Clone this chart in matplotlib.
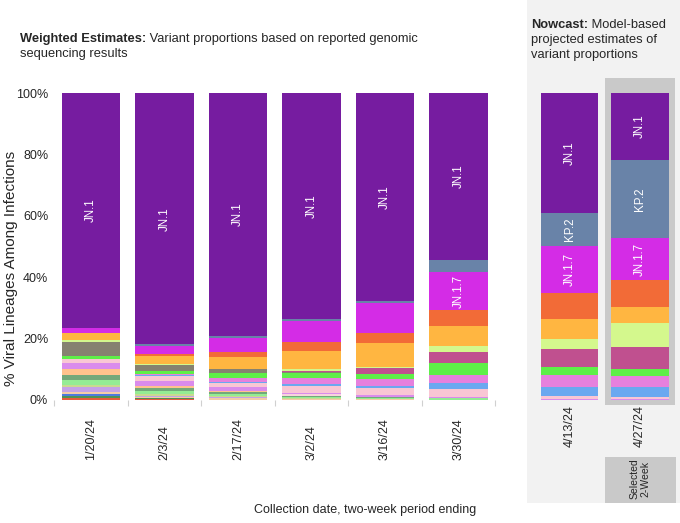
import matplotlib
matplotlib.use('Agg')
import matplotlib.pyplot as plt
from matplotlib.patches import Rectangle
import numpy as np

plt.rcParams['font.family'] = ['Liberation Sans', 'DejaVu Sans']

W, H, DPI = 680, 523, 100

# ---------------- data ----------------
weighted_dates = ['1/20/24', '2/3/24', '2/17/24', '3/2/24', '3/16/24', '3/30/24']
nowcast_dates = ['4/13/24', '4/27/24']

# stack order: bottom -> top ; 8 values = 6 weighted periods + 2 nowcast periods
lineages = ['XBB.1.5.70', 'XBB.1.9.1', 'XBB.1.16.6', 'EG.5', 'FL.1.5.1', 'XBB.2.3',
            'HV.1', 'HK.3', 'JD.1.1', 'JN.1.8', 'BA.2.86.1', 'JN.1.8.1', 'JN.1.4',
            'JN.1.16.1', 'JN.1.11.1', 'JN.1.4.3', 'JN.1.16', 'KP.1.1', 'JN.1.18',
            'JN.1.13.1', 'JN.1.7', 'KP.2', 'JN.1']

xbb_1_5_70 = [0.5, 0.3, 0, 0, 0, 0, 0, 0]
xbb_1_9_1 = [0.65, 0.2, 0, 0, 0, 0, 0, 0]
xbb_1_16_6 = [0.75, 0, 0, 0, 0, 0, 0, 0]
eg_5 = [0.75, 0.5, 0.5, 0.23, 0.23, 0, 0, 0]
fl_1_5_1 = [1.5, 0.3, 0.45, 0, 0, 0, 0, 0]
xbb_2_3 = [0.75, 0.56, 0.25, 0.3, 0, 0, 0, 0]
hv_1 = [1.6, 1.07, 0.75, 0.4, 0.4, 0.55, 0, 0]
hk_3 = [1.6, 0.97, 0.7, 0.37, 0.35, 0, 0, 0]
jd_1_1 = [2.0, 0.66, 0.28, 0, 0, 0, 0, 0]
jn_1_8 = [0, 0, 0, 0.65, 0, 0, 0, 0]
ba_2_86_1 = [1.95, 1.73, 1.21, 0.33, 0.65, 0.52, 0.23, 0.3]
jn_1_8_1 = [1.3, 1.5, 1.5, 2.28, 2.37, 2.51, 1.07, 0.77]
jn_1_4 = [0, 0.3, 0.32, 0.64, 0.56, 1.86, 2.84, 3.26]
jn_1_16_1 = [0, 0.37, 1.3, 1.97, 2.18, 2.7, 4.0, 3.57]
jn_1_11_1 = [1.0, 1.07, 1.44, 1.63, 1.83, 3.81, 2.7, 2.2]
jn_1_4_3 = [4.7, 1.86, 1.3, 0.2, 0, 0, 0, 0]
jn_1_16 = [0, 0, 0, 0.54, 1.83, 3.65, 5.65, 7.3]
kp_1_1 = [0.4, 0.2, 0.2, 0.46, 0.45, 2.0, 3.25, 7.6]
jn_1_18 = [2.3, 2.8, 3.9, 5.9, 7.65, 6.5, 6.8, 5.2]
jn_1_13_1 = [0, 0.6, 1.5, 3.0, 3.2, 5.2, 8.35, 8.9]
jn_1_7 = [1.6, 2.7, 4.7, 6.9, 9.8, 12.4, 15.25, 13.6]
kp_2 = [0, 0.4, 0.55, 0.6, 0.8, 3.9, 10.9, 25.5]
jn_1 = [76.65, 81.91, 79.15, 73.6, 67.7, 54.4, 38.96, 21.8]

series = [xbb_1_5_70, xbb_1_9_1, xbb_1_16_6, eg_5, fl_1_5_1, xbb_2_3, hv_1, hk_3,
          jd_1_1, jn_1_8, ba_2_86_1, jn_1_8_1, jn_1_4, jn_1_16_1, jn_1_11_1,
          jn_1_4_3, jn_1_16, kp_1_1, jn_1_18, jn_1_13_1, jn_1_7, kp_2, jn_1]

colors = ['#E65A3E', '#4F9155', '#4D7BDE', '#F3CDA8', '#C4A2E6', '#C9DA8F',
          '#94EC94', '#73A87A', '#FFC28D', '#F8D3DC', '#DA8BEC', '#F9C6D4', '#6AA8F0',
          '#E680DD', '#5EEF48', '#868270', '#C0508F', '#D4F88D', '#FFB641',
          '#F26B37', '#D42CE6', '#6983A8', '#761CA0']

labelled = ['JN.1', 'JN.1.7', 'KP.2']

# ---------------- figure ----------------
fig = plt.figure(figsize=(W / DPI, H / DPI), dpi=DPI)
fig.patch.set_facecolor('white')


def fx(px):
    return px / W


def fy(py):
    return 1 - py / H


def rect(x0, y0, x1, y1, color):
    fig.add_artist(Rectangle((fx(x0), fy(y1)), fx(x1) - fx(x0), fy(y0) - fy(y1),
                             transform=fig.transFigure, facecolor=color,
                             edgecolor='none', zorder=0))


# nowcast panel backgrounds
rect(527, 0, 680, 503, '#F2F2F2')
rect(605, 78, 675, 405, '#C9C9C9')
rect(605, 457, 676, 503, '#C9C9C9')

axL = fig.add_axes([fx(54.25), fy(400), fx(441), 307 / H])
axR = fig.add_axes([fx(534.25), fy(400), fx(141), 307 / H])

text_col = '#262626'


def draw(ax, idx, dates, width, pad_px):
    x = np.arange(len(idx))
    bottom = np.zeros(len(idx))
    for name, vals, col in zip(lineages, series, colors):
        v = np.array([vals[i] for i in idx])
        ax.bar(x, v, width, bottom=bottom, color=col, edgecolor='none', linewidth=0)
        if name in labelled:
            for xi, vi, bi in zip(x, v, bottom):
                if vi >= 10:
                    ax.text(xi, bi + vi / 2, name, rotation=90, ha='center', va='center',
                            color='white', fontsize=8.3)
        bottom += v
    ax.set_xlim(-0.5, len(idx) - 0.5)
    ax.set_ylim(0, 100)
    ax.set_facecolor('none')
    for s in ax.spines.values():
        s.set_visible(False)
    ax.set_xticks(x)
    ax.set_xticklabels(dates, rotation=90, va='bottom', ha='center',
                       fontsize=9, color=text_col)
    ax.tick_params(axis='x', which='major', length=0, pad=pad_px * 72 / DPI)


draw(axL, range(0, 6), weighted_dates, 0.79, 60)
draw(axR, range(6, 8), nowcast_dates, 0.81, 47)

axL.set_xticks(np.arange(-0.5, 6, 1), minor=True)
axL.tick_params(axis='x', which='minor', length=4, color='#D0D0D0', width=0.8)
axL.set_yticks(np.arange(0, 101, 20))
axL.set_yticklabels([f'{v}%' for v in range(0, 101, 20)], fontsize=9, color=text_col)
axL.tick_params(axis='y', length=0, pad=6 * 72 / DPI)
axR.set_yticks([])

# titles
r = fig.canvas.get_renderer()
t1 = fig.text(fx(20), fy(42), 'Weighted Estimates:', weight='bold', fontsize=9.3,
              color=text_col, va='baseline')
bb = t1.get_window_extent(renderer=r)
fig.text(bb.x1 / W, fy(42), ' Variant proportions based on reported genomic',
         fontsize=9.3, color=text_col, va='baseline')
fig.text(fx(20), fy(57), 'sequencing results', fontsize=9.3, color=text_col, va='baseline')

t2 = fig.text(fx(531), fy(28), 'Nowcast:', weight='bold', fontsize=9.3,
              color=text_col, va='baseline')
bb2 = t2.get_window_extent(renderer=r)
fig.text(bb2.x1 / W, fy(28), ' Model-based', fontsize=9.3, color=text_col, va='baseline')
fig.text(fx(531), fy(43), 'projected estimates of', fontsize=9.3, color=text_col, va='baseline')
fig.text(fx(531), fy(58), 'variant proportions', fontsize=9.3, color=text_col, va='baseline')

fig.text(fx(11), fy(268), '% Viral Lineages Among Infections', rotation=90,
         ha='center', va='center', fontsize=11, color=text_col)
fig.text(fx(365), fy(510), 'Collection date, two-week period ending',
         ha='center', va='center', fontsize=9, color=text_col)
fig.text(fx(640), fy(479), 'Selected\n2-Week', rotation=90, ha='center', va='center',
         fontsize=7.5, color=text_col, linespacing=1.0)

fig.savefig('out.png', dpi=DPI)
